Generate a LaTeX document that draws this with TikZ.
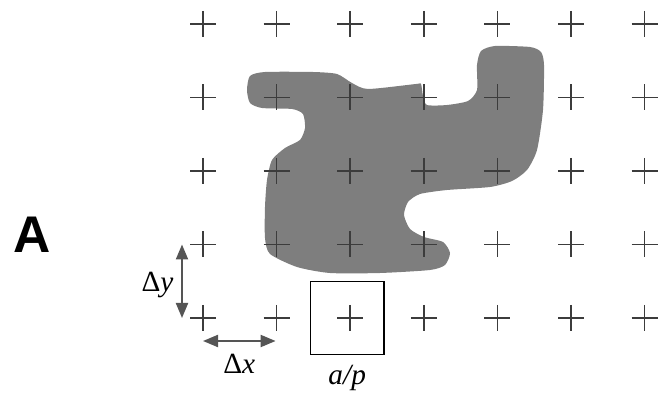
\documentclass[tikz,border=0pt]{standalone}
\usepackage{fontspec}
\setmainfont{Liberation Serif}
\newfontfamily\panelfont{Liberation Sans}
\usetikzlibrary{arrows.meta,calc,positioning}
\definecolor{Blob}{HTML}{7E7E7E}
\definecolor{Cross}{HTML}{3C3C3C}
\definecolor{Spacing}{HTML}{555555}

\begin{document}
\begin{tikzpicture}[
  x=0.03cm, y=-0.03cm,
  cross/.style={draw=Cross, line width=1.5pt},
  spacing/.style={{Triangle[length=0.45cm,width=0.36cm]}-{Triangle[length=0.45cm,width=0.36cm]},
                  draw=Spacing, line width=1.8pt},
  lbl/.style={font=\fontsize{25}{27}\selectfont, inner sep=0pt}
]
  \useasboundingbox (0,0) rectangle (659,397);
  % object
  \fill[Blob] plot[smooth cycle, tension=0.4] coordinates {
    (250,76) (265,72) (313,72) (337,74) (352,83) (368,89) (416,84) (421,84) (423,96) (427,105)
    (447,105) (468,101) (477,90) (477,65) (481,51) (495,46) (530,47) (541,52)
    (544,65) (543,110) (537,150) (527,170) (512,181) (490,187) (447,190) (420,194)
    (408,202) (404,215) (410,229) (424,237) (443,242) (450,253) (445,265) (430,270)
    (380,273) (330,273) (297,267) (270,254) (265,238) (265,207) (267,180) (272,160)
    (285,148) (300,140) (305,128) (303,114) (292,109) (262,108) (250,103) (247,90)};
  % sampling grid
  \foreach \i in {0,...,6}
    \foreach \j in {0,...,4}
      \coordinate (p-\i-\j) at ({203+73.6*\i},{24+73.5*\j});
  \foreach \i in {0,...,6}
    \foreach \j in {0,...,4}
      \draw[cross] ($(p-\i-\j)+(-13,0)$) -- ++(26,0) ($(p-\i-\j)+(0,-13)$) -- ++(0,26);
  % pixel cell
  \node[draw, line width=1.1pt, minimum size=2.2cm, inner sep=0pt] (cell) at ($(p-2-4)+(-3,0)$) {};
  \node[lbl, below=0.3cm of cell] (cell-lbl) {\textit{a/p}};
  % spacings
  \coordinate (dy-top) at ($(p-0-3)+(-21,0)$);
  \coordinate (dy-bot) at ($(p-0-4)+(-21,0)$);
  \coordinate (dy-mid) at ($(dy-top)!0.5!(dy-bot)$);
  \coordinate (dx-left) at ($(p-0-4)+(0,23)$);
  \coordinate (dx-right) at ($(p-1-4)+(-1,23)$);
  \coordinate (dx-mid) at ($(dx-left)!0.5!(dx-right)$);
  \draw[spacing] (dy-top) -- (dy-bot);
  \draw[spacing] (dx-left) -- (dx-right);
  \node[lbl, left=0.25cm of dy-mid, yshift=-0.1cm] (dy-lbl) {Δ\textit{y}};
  \node[lbl, below=0.4cm of dx-mid] (dx-lbl) {Δ\textit{x}};
  % panel letter
  \node[font=\panelfont\bfseries\fontsize{44}{44}\selectfont, inner sep=0pt] (panel) at (32,235) {A};
\end{tikzpicture}
\end{document}
